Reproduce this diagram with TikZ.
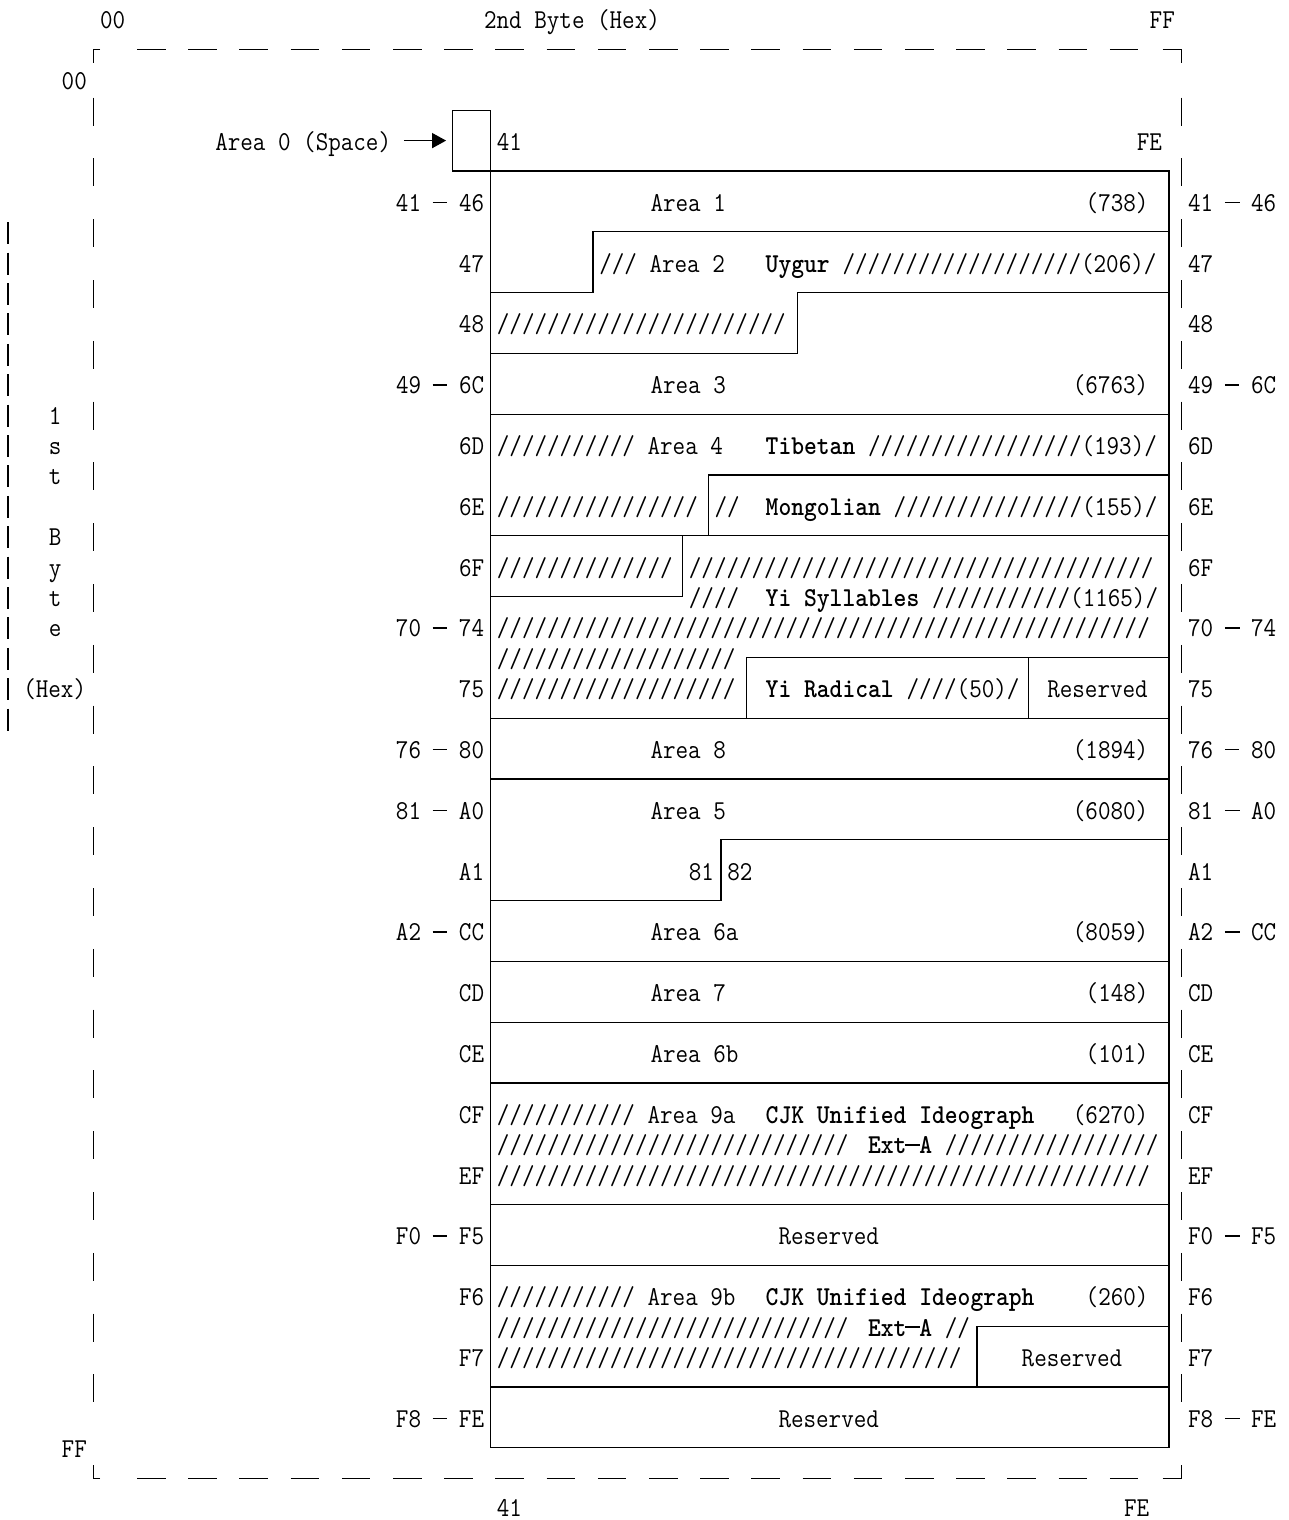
\documentclass[tikz,border=0pt]{standalone}
\usepackage{graphicx}
\usetikzlibrary{arrows.meta}
\ExplSyntaxOn
\cs_new:Npn \sls #1 { \prg_replicate:nn {#1} {/} }
\ExplSyntaxOff
\newcommand\tfont{\fontsize{27.3}{30}\selectfont\ttfamily\frenchspacing}
\newcommand\T[1]{\scalebox{0.8931}[1]{#1}}
\newcommand\Bd[1]{\scalebox{0.8931}[1]{\bfseries #1}}
% a long dash filling one character cell
\newcommand\dsh{\makebox[0.525em][c]{\rule[0.3em]{0.6em}{0.05em}}}
\newcommand\bdsh{\makebox[0.525em][c]{\rule[0.29em]{0.62em}{0.07em}}}
% text node: name, column, row, content
\newcommand\tn[4]{\node[tx] (#1) at ({484.1+12.8*(#2)},{150.5+60.8*(#3)}) {\T{#4}};}
\newcommand\bn[4]{\node[tx] (#1) at ({484.1+12.8*(#2)},{150.5+60.8*(#3)}) {\Bd{#4}};}
\newcommand\cX[1]{490.5+12.8*(#1)}
\newcommand\bY[1]{171+60.8*(#1)}
\begin{document}
\begin{tikzpicture}[x=1pt,y=-1pt,
  tx/.style={anchor=base west, inner sep=0pt, outer sep=0pt, font=\tfont},
  ln/.style={line width=1.2pt},
  brd/.style={line width=1.4pt},
  arr/.style={line width=1.4pt,-{Triangle[length=14pt,width=15pt]}}]
\useasboundingbox[fill=white] (0,0) rectangle (1288,1520);

% ---------- outer dashed frame ----------
\foreach \j in {0,...,19}
  \draw[brd] ({484.1+12.8*(-27+4*\j)-1.5},49.4) -- ({484.1+12.8*(-25+4*\j)+1.5},49.4)
             ({484.1+12.8*(-27+4*\j)-1.5},1478.2) -- ({484.1+12.8*(-25+4*\j)+1.5},1478.2);
\draw[brd] ({\cX{-31}+6.4},49.4) -- ({\cX{-31}},49.4) -- ({\cX{-31}},63);
\draw[brd] ({\cX{-31}+6.4},1478.2) -- ({\cX{-31}},1478.2) -- ({\cX{-31}},1465);
\draw[brd] ({\cX{53}-6.4},49.4) -- ({\cX{54}},49.4) -- ({\cX{54}},63);
\draw[brd] ({\cX{53}-6.4},1478.2) -- ({\cX{54}},1478.2) -- ({\cX{54}},1465);
\foreach \m in {-0.5,0.5,...,20.5}
  \draw[brd] ({\cX{-31}},{142+60.8*\m-14}) -- ({\cX{-31}},{142+60.8*\m+14})
             ({\cX{54}},{142+60.8*\m-14}) -- ({\cX{54}},{142+60.8*\m+14});
% far-left bar of the 1st Byte label
\foreach \m in {3,...,19}
  \draw[line width=1.1pt] (8,{142+30.4*\m-11}) -- (8,{142+30.4*\m+11});

% ---------- area boxes ----------
\node[draw, ln, minimum width=38.4pt, minimum height=60.8pt, inner sep=0pt, outer sep=0pt]
  (box0) at ({\cX{-1.5}},{\bY{-0.5}}) {};
\draw[ln] ({\cX{0}},{\bY{-1}}) -- ({\cX{0}},{\bY{21}});
\draw[ln] ({\cX{-3}},{\bY{0}}) -- ({\cX{53}},{\bY{0}}) -- ({\cX{53}},{\bY{21}}) -- ({\cX{0}},{\bY{21}});
\draw[ln] ({\cX{0}},{\bY{2}}) -- ({\cX{8}},{\bY{2}}) -- ({\cX{8}},{\bY{1}}) -- ({\cX{53}},{\bY{1}});
\draw[ln] ({\cX{0}},{\bY{3}}) -- ({\cX{24}},{\bY{3}}) -- ({\cX{24}},{\bY{2}}) -- ({\cX{53}},{\bY{2}});
\draw[ln] ({\cX{0}},{\bY{4}}) -- ({\cX{53}},{\bY{4}});
\draw[ln] ({\cX{17}},{\bY{6}}) -- ({\cX{17}},{\bY{5}}) -- ({\cX{53}},{\bY{5}});
\draw[ln] ({\cX{0}},{\bY{6}}) -- ({\cX{53}},{\bY{6}});
\draw[ln] ({\cX{0}},{\bY{7}}) -- ({\cX{15}},{\bY{7}}) -- ({\cX{15}},{\bY{6}});
\draw[ln] ({\cX{20}},{\bY{9}}) -- ({\cX{20}},{\bY{8}}) -- ({\cX{53}},{\bY{8}});
\draw[ln] ({\cX{42}},{\bY{8}}) -- ({\cX{42}},{\bY{9}});
\draw[ln] ({\cX{0}},{\bY{9}}) -- ({\cX{53}},{\bY{9}});
\draw[ln] ({\cX{0}},{\bY{10}}) -- ({\cX{53}},{\bY{10}});
\draw[ln] ({\cX{0}},{\bY{12}}) -- ({\cX{18}},{\bY{12}}) -- ({\cX{18}},{\bY{11}}) -- ({\cX{53}},{\bY{11}});
\foreach \k in {13,14,15,17,18,20}
  \draw[ln] ({\cX{0}},{\bY{\k}}) -- ({\cX{53}},{\bY{\k}});
\draw[ln] ({\cX{38}},{\bY{20}}) -- ({\cX{38}},{\bY{19}}) -- ({\cX{53}},{\bY{19}});

% ---------- axis labels ----------
\tn{t00}{-30}{-2}{00}
\tn{tbyte}{0}{-2}{2nd Byte (Hex)}
\tn{tFF}{52}{-2}{FF}
\tn{l00}{-33}{-1}{00}
\tn{lFF}{-33}{21.5}{FF}
\tn{b41}{1}{22.46}{41}
\tn{bFE}{50}{22.46}{FE}
\tn{v1}{-34}{4.5}{1}
\tn{v2}{-34}{5}{s}
\tn{v3}{-34}{5.5}{t}
\tn{v4}{-34}{6.5}{B}
\tn{v5}{-34}{7}{y}
\tn{v6}{-34}{7.5}{t}
\tn{v7}{-34}{8}{e}
\tn{v8}{-36}{9}{(Hex)}

\foreach \k/\s in {1/41 \dsh{} 46,2/47,3/48,4/49 \dsh{} 6C,5/6D,6/6E,7/6F,8/70 \dsh{} 74,9/75,
  10/76 \dsh{} 80,11/81 \dsh{} A0,12/A1,13/A2 \dsh{} CC,14/CD,15/CE,16/CF,17/EF,18/F0 \dsh{} F5,
  19/F6,20/F7,21/F8 \dsh{} FE}{
  \node[tx, anchor=base east] (L\k) at (484.1,{150.5+60.8*\k}) {\T{\s}};
  \node[tx] (R\k) at ({484.1+12.8*55},{150.5+60.8*\k}) {\T{\s}};
}

% ---------- row contents ----------
\tn{a0}{-21}{0}{Area 0 (Space)}
\path (a0.east |- box0.west) coordinate (a0s);
\draw[arr] ([xshift=12.8pt]a0s) -- ([xshift=-6pt]box0.west);
\tn{r0a}{1}{0}{41}
\tn{r0b}{51}{0}{FE}

\tn{r1a}{13}{1}{Area 1}
\tn{r1b}{47}{1}{(738)}

\tn{r2a}{9}{2}{/// Area 2}
\bn{r2b}{22}{2}{Uygur}
\tn{r2c}{28}{2}{\sls{19}(206)/}

\tn{r3a}{1}{3}{\sls{23}}

\tn{r4a}{13}{4}{Area 3}
\tn{r4b}{46}{4}{(6763)}

\tn{r5a}{1}{5}{\sls{11} Area 4}
\bn{r5b}{22}{5}{Tibetan}
\tn{r5c}{30}{5}{\sls{17}(193)/}

\tn{r6a}{1}{6}{\sls{16}}
\tn{r6b}{18}{6}{//}
\bn{r6c}{22}{6}{Mongolian}
\tn{r6d}{32}{6}{\sls{15}(155)/}

\tn{r7a}{1}{7}{\sls{14}}
\tn{r7b}{16}{7}{\sls{37}}
\tn{r7c}{16}{7.5}{////}
\bn{r7d}{22}{7.5}{Yi Syllables}
\tn{r7e}{35}{7.5}{\sls{11}(1165)/}

\tn{r8a}{1}{8}{\sls{52}}
\tn{r8b}{1}{8.5}{\sls{19}}

\tn{r9a}{1}{9}{\sls{19}}
\bn{r9b}{22}{9}{Yi Radical}
\tn{r9c}{33}{9}{////(50)/}
\tn{r9d}{44}{9}{Reserved}

\tn{r10a}{13}{10}{Area 8}
\tn{r10b}{46}{10}{(1894)}

\tn{r11a}{13}{11}{Area 5}
\tn{r11b}{46}{11}{(6080)}

\tn{r12a}{16}{12}{81}
\tn{r12b}{19}{12}{82}

\tn{r13a}{13}{13}{Area 6a}
\tn{r13b}{46}{13}{(8059)}

\tn{r14a}{13}{14}{Area 7}
\tn{r14b}{47}{14}{(148)}

\tn{r15a}{13}{15}{Area 6b}
\tn{r15b}{47}{15}{(101)}

\tn{r16a}{1}{16}{\sls{11} Area 9a}
\bn{r16b}{22}{16}{CJK Unified Ideograph}
\tn{r16c}{46}{16}{(6270)}
\tn{r16d}{1}{16.5}{\sls{28}}
\bn{r16e}{30}{16.5}{Ext\bdsh{}A}
\tn{r16f}{36}{16.5}{\sls{17}}
\tn{r17a}{1}{17}{\sls{52}}

\tn{r18a}{23}{18}{Reserved}

\tn{r19a}{1}{19}{\sls{11} Area 9b}
\bn{r19b}{22}{19}{CJK Unified Ideograph}
\tn{r19c}{47}{19}{(260)}
\tn{r19d}{1}{19.5}{\sls{28}}
\bn{r19e}{30}{19.5}{Ext\bdsh{}A}
\tn{r19f}{36}{19.5}{//}
\tn{r20a}{1}{20}{\sls{37}}
\tn{r20b}{42}{20}{Reserved}

\tn{r21a}{23}{21}{Reserved}
\end{tikzpicture}
\end{document}
